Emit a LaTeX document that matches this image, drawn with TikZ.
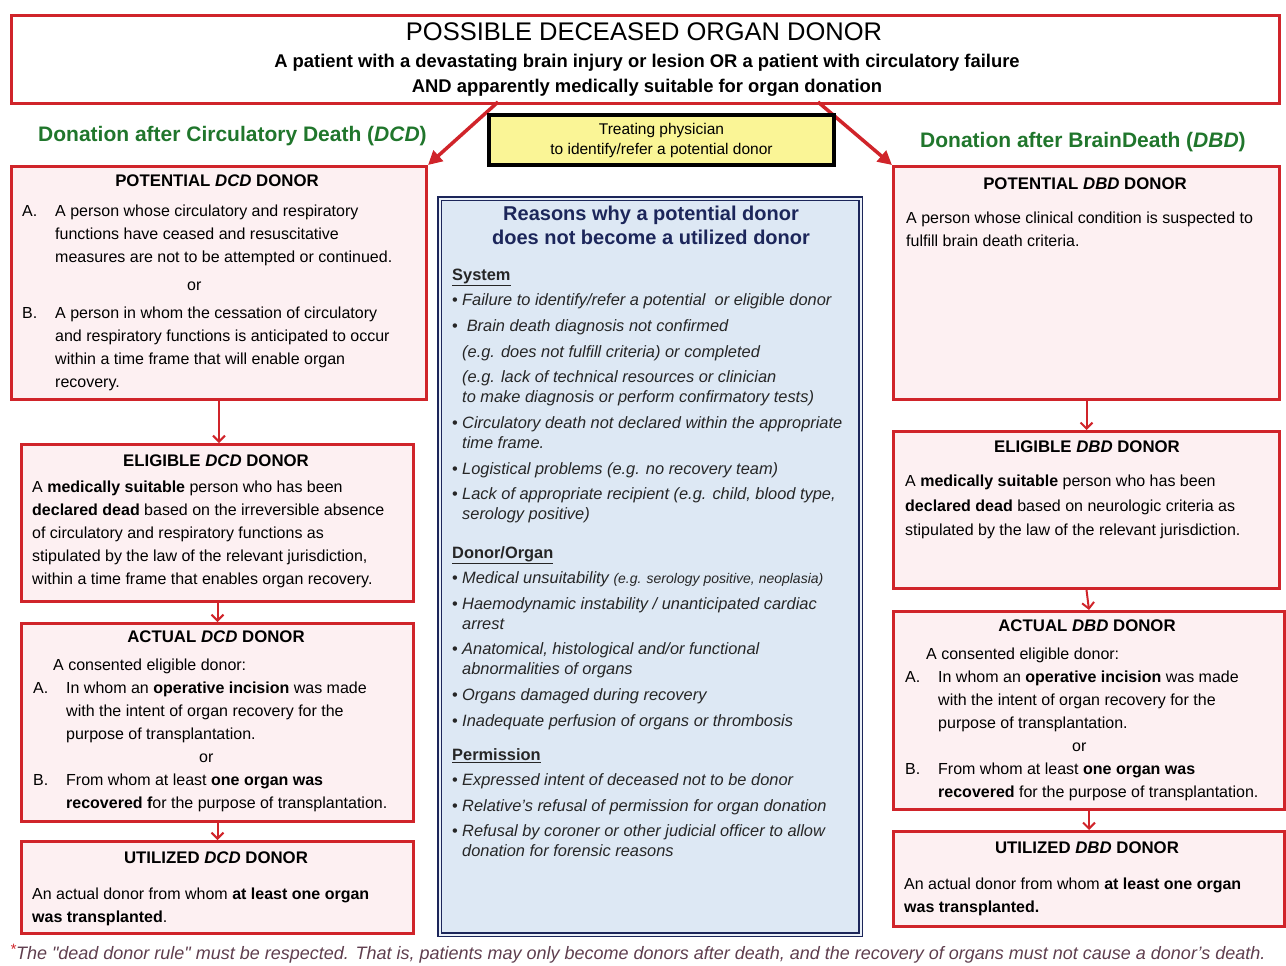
\documentclass[tikz,border=0pt]{standalone}
\usepackage{fontspec}
\setmainfont{Liberation Sans}
\usetikzlibrary{arrows.meta}

\definecolor{donorred}{RGB}{208,36,42}
\definecolor{donorpink}{RGB}{253,240,242}
\definecolor{headgreen}{RGB}{32,118,44}
\definecolor{physyellow}{RGB}{250,245,150}
\definecolor{reasonnavy}{RGB}{28,38,90}
\definecolor{reasonblue}{RGB}{221,232,244}
\definecolor{notegray}{RGB}{95,62,78}

% labels and indents inside the boxes
\newcommand{\lbl}[1]{\makebox[33pt][l]{#1}}
\newcommand{\hng}{\hspace*{33pt}}
\newcommand{\bul}{\makebox[10pt][l]{\upshape\textbullet}}
\newcommand{\cnt}{\hspace*{10pt}}

\tikzset{
  donorbox/.style={draw=donorred, line width=3pt, fill=donorpink, anchor=north west, inner sep=0pt},
  donorhead/.style={font=\fontsize{16.8}{19}\selectfont\bfseries, inner sep=0pt},
  donortext/.style={font=\fontsize{16}{23}\selectfont, align=left, anchor=north west, inner sep=0pt},
  nextstep/.style={draw=donorred, line width=2pt, -{Straight Barb[length=6pt,width=12pt]}},
  branch/.style={draw=donorred, line width=3.5pt, -{Triangle[length=14pt,width=14pt]}},
  greenhead/.style={font=\fontsize{21}{24}\selectfont\bfseries, text=headgreen, anchor=west, inner sep=0pt},
}

\begin{document}
\begin{tikzpicture}[x=1pt,y=-1pt]
    \useasboundingbox (0,0) rectangle (1286,966);

    % possible donor
    \node[donorbox, fill=white, minimum width=1268pt, minimum height=88pt] (possible) at (10,14) {};
    \node[inner sep=0pt, font=\fontsize{25.5}{28}\selectfont] (possiblehead) at (644,32) {POSSIBLE DECEASED ORGAN DONOR};
    \node[inner sep=0pt, font=\fontsize{18.4}{25}\selectfont\bfseries, align=center] (possibletext) at (647,75)
        {A patient with a devastating brain injury or lesion OR a patient with circulatory failure\\
         AND apparently medically suitable for organ donation};

    \node[greenhead] (dcdhead) at (38,136) {Donation after Circulatory Death (\textit{DCD})};
    \node[greenhead] (dbdhead) at (920,142) {Donation after BrainDeath (\textit{DBD})};

    % DCD column
    \node[donorbox, minimum width=415pt, minimum height=233pt] (potdcd) at (10,165) {};
    \node[donorhead] (potdcdhead) at (217,181) {POTENTIAL \textit{DCD} DONOR};
    \node[donortext] (potdcdtext) at (22,205)
        {\lbl{A.}A person whose circulatory and respiratory\\
         \hng functions have ceased and resuscitative\\
         \hng measures are not to be attempted or continued.\\[5pt]
         \hspace*{165pt}or\\[5pt]
         \lbl{B.}A person in whom the cessation of circulatory\\
         \hng and respiratory functions is anticipated to occur\\
         \hng within a time frame that will enable organ\\
         \hng recovery.};

    \node[donorbox, minimum width=392pt, minimum height=157pt] (eligdcd) at (20,443) {};
    \node[donorhead] (eligdcdhead) at (216,461) {ELIGIBLE \textit{DCD} DONOR};
    \node[donortext] (eligdcdtext) at (32,481)
        {A \textbf{medically suitable} person who has been\\
         \textbf{declared dead} based on the irreversible absence\\
         of circulatory and respiratory functions as\\
         stipulated by the law of the relevant jurisdiction,\\
         within a time frame that enables organ recovery.};

    \node[donorbox, minimum width=392pt, minimum height=198pt] (actdcd) at (20,622) {};
    \node[donorhead] (actdcdhead) at (216,637) {ACTUAL \textit{DCD} DONOR};
    \node[donortext] (actdcdtext) at (33,659)
        {\hspace*{20pt}A consented eligible donor:\\
         \lbl{A.}In whom an \textbf{operative incision} was made\\
         \hng with the intent of organ recovery for the\\
         \hng purpose of transplantation.\\
         \hspace*{166pt}or\\
         \lbl{B.}From whom at least \textbf{one organ was}\\
         \hng \textbf{recovered f}or the purpose of transplantation.};

    \node[donorbox, minimum width=392pt, minimum height=92pt] (utildcd) at (20,840) {};
    \node[donorhead] (utildcdhead) at (216,858) {UTILIZED \textit{DCD} DONOR};
    \node[donortext] (utildcdtext) at (32,888)
        {An actual donor from whom \textbf{at least one organ}\\
         \textbf{was transplanted}.};

    \draw[nextstep] (potdcd.south) -- (potdcd.south |- eligdcd.north);
    \draw[nextstep] (eligdcd.south) -- (actdcd.north);
    \draw[nextstep] (actdcd.south) -- (utildcd.north);

    % DBD column
    \node[donorbox, minimum width=386pt, minimum height=233pt] (potdbd) at (892,165) {};
    \node[donorhead] (potdbdhead) at (1085,184) {POTENTIAL \textit{DBD} DONOR};
    \node[donortext] (potdbdtext) at (906,212)
        {A person whose clinical condition is suspected to\\
         fulfill brain death criteria.};

    \node[donorbox, minimum width=386pt, minimum height=157pt] (eligdbd) at (892,430) {};
    \node[donorhead] (eligdbdhead) at (1087,447) {ELIGIBLE \textit{DBD} DONOR};
    \node[donortext, font=\fontsize{16}{24.5}\selectfont] (eligdbdtext) at (905,475)
        {A \textbf{medically suitable} person who has been\\
         \textbf{declared dead} based on neurologic criteria as\\
         stipulated by the law of the relevant jurisdiction.};

    \node[donorbox, minimum width=391pt, minimum height=198pt] (actdbd) at (892,610) {};
    \node[donorhead] (actdbdhead) at (1087,626) {ACTUAL \textit{DBD} DONOR};
    \node[donortext] (actdbdtext) at (905,648)
        {\hspace*{21pt}A consented eligible donor:\\
         \lbl{A.}In whom an \textbf{operative incision} was made\\
         \hng with the intent of organ recovery for the\\
         \hng purpose of transplantation.\\
         \hspace*{167pt}or\\
         \lbl{B.}From whom at least \textbf{one organ was}\\
         \hng \textbf{recovered} for the purpose of transplantation.};

    \node[donorbox, minimum width=391pt, minimum height=95pt] (utildbd) at (892,830) {};
    \node[donorhead] (utildbdhead) at (1087,848) {UTILIZED \textit{DBD} DONOR};
    \node[donortext] (utildbdtext) at (904,878)
        {An actual donor from whom \textbf{at least one organ}\\
         \textbf{was transplanted.}};

    \draw[nextstep] (potdbd.south) -- (eligdbd.north);
    \draw[nextstep] (eligdbd.south) -- (actdbd.north);
    \draw[nextstep] (actdbd.south) -- (utildbd.north);

    % branches from the possible donor
    \coordinate (dcdfrom) at (498,102);
    \coordinate (dbdfrom) at (818,102);
    \draw[branch] (dcdfrom) -- (potdcd.north east);
    \draw[branch] (dbdfrom) -- (potdbd.north west);

    \node[draw=black, line width=4pt, fill=physyellow, anchor=north west, minimum width=345pt, minimum height=50pt,
          inner sep=0pt, font=\fontsize{15.5}{20}\selectfont, align=center] (physician) at (487,113)
        {Treating physician\\to identify/refer a potential donor};

    % reasons
    \node[draw=reasonnavy, line width=1.6pt, double=reasonblue!60!white, double distance=2pt, fill=reasonblue,
          anchor=north west, minimum width=421pt, minimum height=736pt, inner sep=0pt] (reasons) at (439,198) {};
    \node[inner sep=0pt, font=\fontsize{20}{24}\selectfont\bfseries, text=reasonnavy, align=center] (reasonshead) at (651,225)
        {Reasons why a potential donor\\does not become a utilized donor};
    \node[donortext, font=\fontsize{16.4}{20}\selectfont\itshape, text=black!85] (reasonstext) at (452,269)
        {{\upshape\bfseries\underline{System}}\\[5pt]
         \bul Failure to identify/refer a potential\ \ or eligible donor\\[6pt]
         \bul\ Brain death diagnosis not confirmed\\[6pt]
         \cnt (e.g. does not fulfill criteria) or completed\\[5pt]
         \cnt (e.g. lack of technical resources or clinician\\
         \cnt to make diagnosis or perform confirmatory tests)\\[6pt]
         \bul Circulatory death not declared within the appropriate\\
         \cnt time frame.\\[6pt]
         \bul Logistical problems (e.g. no recovery team)\\[5pt]
         \bul Lack of appropriate recipient (e.g. child, blood type,\\
         \cnt serology positive)\\[19pt]
         {\upshape\bfseries\underline{Donor/Organ}}\\[5pt]
         \bul Medical unsuitability {\fontsize{14}{20}\selectfont(e.g. serology positive, neoplasia)}\\[6pt]
         \bul Haemodynamic instability / unanticipated cardiac\\
         \cnt arrest\\[5pt]
         \bul Anatomical, histological and/or functional\\
         \cnt abnormalities of organs\\[6pt]
         \bul Organs damaged during recovery\\[6pt]
         \bul Inadequate perfusion of organs or thrombosis\\[14pt]
         {\upshape\bfseries\underline{Permission}}\\[5pt]
         \bul Expressed intent of deceased not to be donor\\[6pt]
         \bul Relative's refusal of permission for organ donation\\[5pt]
         \bul Refusal by coroner or other judicial officer to allow\\
         \cnt donation for forensic reasons};

    % dead donor rule
    \node[anchor=west, inner sep=0pt, font=\fontsize{18}{20}\selectfont\itshape, text=notegray] (deadrule) at (10,954)
        {\textcolor{donorred}{\raisebox{5pt}{\fontsize{15}{15}\selectfont *}}The \textquotedbl dead donor rule\textquotedbl\ must be respected. That is, patients may only become donors after death, and the recovery of organs must not cause a donor’s death.};
\end{tikzpicture}
\end{document}
